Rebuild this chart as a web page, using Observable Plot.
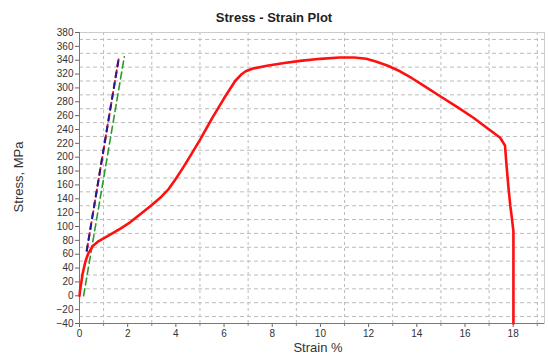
<!DOCTYPE html>
<html>
<head>
<meta charset="utf-8">
<script src="https://cdn.jsdelivr.net/npm/d3@7"></script>
<script src="https://cdn.jsdelivr.net/npm/@observablehq/plot@0.6"></script>
<style>
  body { margin: 0; background: #fff; font-family: "Liberation Sans", Arial, sans-serif; }
  #wrap { position: relative; width: 548px; height: 354px; }
  #title { position: absolute; left: 0; top: 10px; width: 548px; text-align: center; font-weight: bold; font-size: 13px; color: #222; }
  #chart { position: absolute; left: 0; top: 26px; }
</style>
</head>
<body>
<div id="wrap">
  <div id="title">Stress - Strain Plot</div>
  <div id="chart"></div>
</div>
<script>
// Measured curve
const strain = [0, 0.03, 0.07, 0.12, 0.17, 0.25, 0.35, 0.45, 0.55, 0.8, 1.2, 1.7, 2.1, 2.6, 3.0, 3.4, 3.7, 4.0, 4.3, 4.6, 5.0, 5.5, 6.0, 6.46, 6.7, 6.9, 7.2, 7.78, 8.5, 9.16, 10.0, 10.8, 11.4, 11.9, 12.3, 12.8, 13.3, 13.8, 14.3, 14.97, 15.7, 16.35, 17.0, 17.46, 17.66, 17.72, 17.8, 17.88, 17.94, 18.01, 18.01];
const stress = [0, 10, 18, 30, 38, 50, 60, 66, 72, 79, 87, 97, 106, 120, 131, 143, 154, 169, 185, 202, 225, 256, 285, 310, 319, 324, 328, 332, 336, 339, 342, 344, 344, 342, 338, 332, 324, 314, 303, 288, 272, 257, 240, 228, 217, 190, 158, 130, 114, 93, -40];
// Modulus / offset lines
const modStrain = [0.3, 1.64];
const modStress = [65, 345];
const offStrain = [0.17, 1.86];
const offStress = [0, 345];
// Ticks
const xLabelTicks = [0, 2, 4, 6, 8, 10, 12, 14, 16, 18];
const xGrid = [1, 3, 5, 7, 9, 11, 13, 15, 17, 19];
const yLabelTicks = d3.range(-40, 381, 20);
const yGrid = d3.range(-30, 380, 20);

const curve = strain.map((s, i) => ({x: s, y: stress[i]}));
const modLine = modStrain.map((s, i) => ({x: s, y: modStress[i]}));
const offLine = offStrain.map((s, i) => ({x: s, y: offStress[i]}));

const chart = Plot.plot({
  width: 548,
  height: 328,
  marginLeft: 79,
  marginRight: 4,
  marginTop: 6,
  marginBottom: 31,
  style: {fontFamily: "Liberation Sans, Arial, sans-serif", fontSize: "10px", color: "#333", background: "#fff"},
  x: {domain: [0, 19.3]},
  y: {domain: [-40, 380]},
  marks: [
    Plot.ruleX(xGrid, {stroke: "#bbb", strokeDasharray: "3,3", strokeWidth: 1}),
    Plot.ruleY(yGrid, {stroke: "#bbb", strokeDasharray: "4,3", strokeWidth: 1}),
    Plot.frame({stroke: "#ccc"}),
    Plot.axisX(xGrid, {tickSize: 3, text: null, stroke: "#888", label: null}),
    Plot.axisX(xLabelTicks, {tickSize: 4, tickPadding: 2, stroke: "#666", label: null, fill: "#333"}),
    Plot.axisY(yLabelTicks, {tickSize: 4, tickPadding: 2, stroke: "#666", label: null, fill: "#333"}),
    Plot.ruleX([0], {stroke: "#777"}),
    Plot.ruleY([-40], {stroke: "#777"}),
    Plot.line(offLine, {x: "x", y: "y", stroke: "#2e9a2e", strokeWidth: 1.6, strokeDasharray: "7,4"}),
    Plot.line(modLine, {x: "x", y: "y", stroke: "#e02020", strokeWidth: 2, strokeDasharray: "7,4"}),
    Plot.line(modLine, {x: "x", y: "y", stroke: "#1c1c9a", strokeWidth: 2, strokeDasharray: "5,6"}),
    Plot.line(curve, {x: "x", y: "y", stroke: "#ff1010", strokeWidth: 2.6, strokeLinejoin: "round"})
  ]
});
document.getElementById("chart").appendChild(chart);

const svg = d3.select(chart);
// Y axis label
svg.append("text")
  .attr("transform", "translate(20,151) rotate(-90)")
  .attr("text-anchor", "middle")
  .attr("dominant-baseline", "middle")
  .attr("font-size", 13)
  .attr("fill", "#333")
  .text("Stress, MPa");
// X axis label
svg.append("text")
  .attr("x", 318)
  .attr("y", 326)
  .attr("text-anchor", "middle")
  .attr("font-size", 13)
  .attr("fill", "#333")
  .text("Strain %");
</script>
</body>
</html>
